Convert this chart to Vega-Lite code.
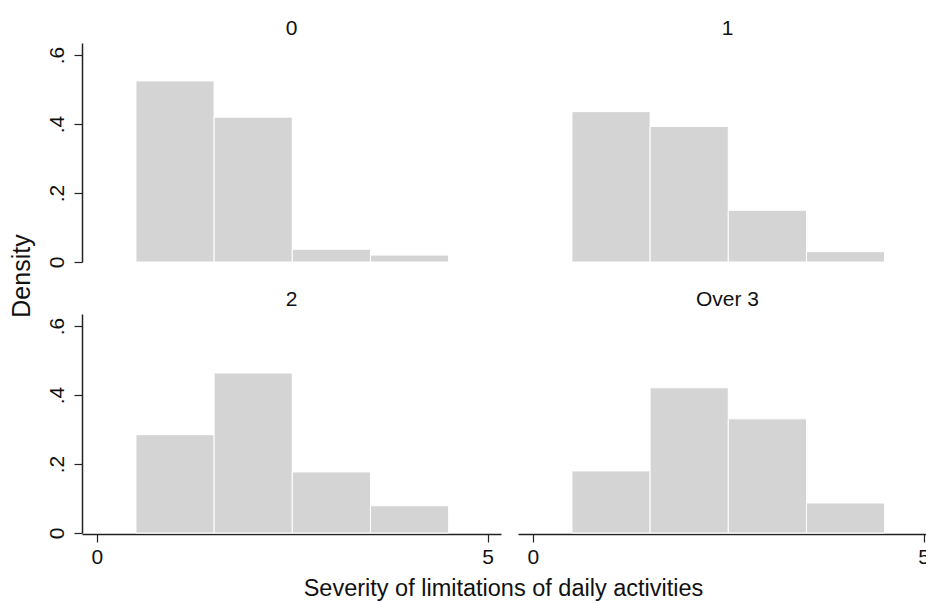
{
  "$schema": "https://vega.github.io/schema/vega-lite/v6.json",
  "padding": {"left": 10, "top": 18, "right": 0, "bottom": 0},
  "background": "white",
  "data": {"values": [
    {"panel": "0", "start": 0.5, "end": 1.5, "density": 0.525},
    {"panel": "0", "start": 1.5, "end": 2.5, "density": 0.42},
    {"panel": "0", "start": 2.5, "end": 3.5, "density": 0.037},
    {"panel": "0", "start": 3.5, "end": 4.5, "density": 0.02},
    {"panel": "1", "start": 0.5, "end": 1.5, "density": 0.436},
    {"panel": "1", "start": 1.5, "end": 2.5, "density": 0.393},
    {"panel": "1", "start": 2.5, "end": 3.5, "density": 0.15},
    {"panel": "1", "start": 3.5, "end": 4.5, "density": 0.03},
    {"panel": "2", "start": 0.5, "end": 1.5, "density": 0.285},
    {"panel": "2", "start": 1.5, "end": 2.5, "density": 0.464},
    {"panel": "2", "start": 2.5, "end": 3.5, "density": 0.177},
    {"panel": "2", "start": 3.5, "end": 4.5, "density": 0.079},
    {"panel": "Over 3", "start": 0.5, "end": 1.5, "density": 0.18},
    {"panel": "Over 3", "start": 1.5, "end": 2.5, "density": 0.421},
    {"panel": "Over 3", "start": 2.5, "end": 3.5, "density": 0.331},
    {"panel": "Over 3", "start": 3.5, "end": 4.5, "density": 0.087}
  ]},
  "facet": {
    "field": "panel",
    "type": "nominal",
    "header": {
      "title": "Density",
      "titleOrient": "left",
      "titleFontSize": 25,
      "titleFontWeight": "normal",
      "titleColor": "#111111",
      "titleFont": "Liberation Sans",
      "titlePadding": 11,
      "labelFontSize": 21,
      "labelColor": "#111111",
      "labelFont": "Liberation Sans",
      "labelPadding": 4
    }
  },
  "columns": 2,
  "spacing": {"column": 17, "row": 26},
  "title": {
    "text": "Severity of limitations of daily activities",
    "orient": "bottom",
    "anchor": "middle",
    "dx": 30,
    "fontSize": 23.5,
    "fontWeight": "normal",
    "color": "#111111",
    "font": "Liberation Sans",
    "offset": 10
  },
  "spec": {
    "width": 419,
    "height": 219,
    "mark": {"type": "bar", "fill": "#d4d4d4", "stroke": "white", "strokeWidth": 1},
    "encoding": {
      "x": {
        "field": "start",
        "type": "quantitative",
        "scale": {"domain": [-0.19, 5.17], "nice": false, "zero": false},
        "axis": {
          "title": null,
          "values": [0, 5],
          "grid": false,
          "domainColor": "#222222",
          "domainWidth": 1.5,
          "tickColor": "#222222",
          "tickWidth": 1.2,
          "tickSize": 8,
          "labelFontSize": 21,
          "labelColor": "#111111",
          "labelFont": "Liberation Sans",
          "labelPadding": 4
        }
      },
      "x2": {"field": "end"},
      "y": {
        "field": "density",
        "type": "quantitative",
        "scale": {"domain": [0, 0.635], "nice": false},
        "axis": {
          "title": null,
          "values": [0, 0.2, 0.4, 0.6],
          "labelExpr": "datum.value == 0 ? '0' : '.' + round(datum.value * 10)",
          "grid": false,
          "labelAngle": -90,
          "labelAlign": "center",
          "labelBaseline": "bottom",
          "domainColor": "#222222",
          "domainWidth": 1.5,
          "tickColor": "#222222",
          "tickWidth": 1.2,
          "tickSize": 8,
          "labelFontSize": 21,
          "labelColor": "#111111",
          "labelFont": "Liberation Sans",
          "labelPadding": 7
        }
      },
      "y2": {"datum": 0}
    }
  },
  "config": {"view": {"stroke": null}, "font": "Liberation Sans"}
}
